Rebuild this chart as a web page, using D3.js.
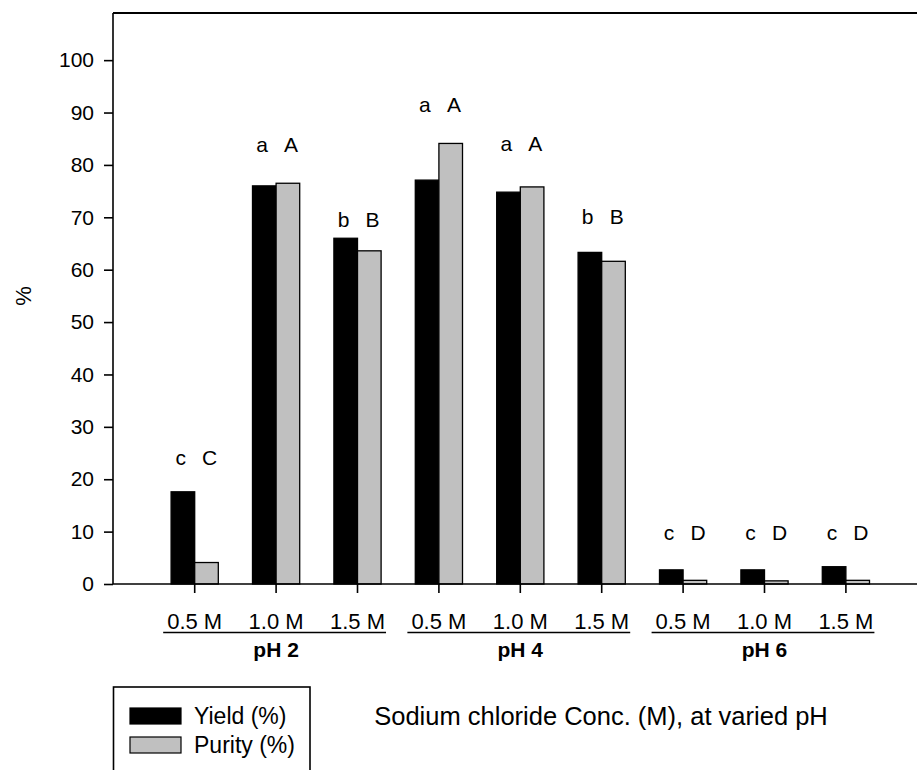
<!DOCTYPE html>
<html>
<head>
<meta charset="utf-8">
<script src="https://cdn.jsdelivr.net/npm/d3@7/dist/d3.min.js"></script>
<style>
  html, body { margin: 0; padding: 0; background: #fff; }
  svg { display: block; font-family: "Liberation Sans", Arial, sans-serif; }
</style>
</head>
<body>
<svg id="chart" width="917" height="770"></svg>
<script>
// Extraction conditions: NaCl concentration within each pH level
const groups = ["pH 2", "pH 4", "pH 6"];
const concentrations = ["0.5 M", "1.0 M", "1.5 M"];

// Measured values (%), in group order pH 2, pH 4, pH 6 × 0.5, 1.0, 1.5 M
const yieldValues  = [17.6, 76.0, 66.0, 77.1, 74.8, 63.3, 2.7, 2.7, 3.3];
const purityValues = [4.1, 76.5, 63.6, 84.1, 75.8, 61.6, 0.7, 0.6, 0.7];

// Significance letters (Yield lower case, Purity upper case) and the level (%) they sit at
const yieldLetters  = ["c", "a", "b", "a", "a", "b", "c", "c", "c"];
const purityLetters = ["C", "A", "B", "A", "A", "B", "D", "D", "D"];
const letterLevels  = [22.7, 82.5, 68.2, 90.1, 82.7, 68.7, 8.4, 8.4, 8.4];

const yTicks = [0, 10, 20, 30, 40, 50, 60, 70, 80, 90, 100];
const seriesNames = ["Yield (%)", "Purity (%)"];
const seriesColors = ["#000000", "#c0c0c0"];

const svg = d3.select("#chart");
const plotLeft = 113, plotTop = 13, plotBottom = 584, plotRight = 930;

// One slot per condition
const slots = [];
groups.forEach((g, gi) => concentrations.forEach((c, ci) => slots.push({ key: g + "|" + c, group: g, conc: c, i: gi * 3 + ci })));

const x = d3.scaleBand()
  .domain(slots.map(d => d.key))
  .range([plotLeft + 41, plotLeft + 41 + 81.4 * 9])
  .paddingInner(0.42)
  .paddingOuter(0.21);

const sub = d3.scaleBand()
  .domain(seriesNames)
  .range([0, x.bandwidth()])
  .padding(0);

const y = d3.scaleLinear().domain([0, 109]).range([plotBottom, plotTop]);

const cx = d => x(d.key) + x.bandwidth() / 2;

// Frame: top and right edges
svg.append("path")
  .attr("d", `M${plotLeft},${plotTop}H${plotRight}V${plotBottom}`)
  .attr("fill", "none").attr("stroke", "#000").attr("stroke-width", 2);

// Bars
const bars = svg.append("g");
slots.forEach(d => {
  [yieldValues[d.i], purityValues[d.i]].forEach((v, si) => {
    bars.append("rect")
      .attr("x", x(d.key) + sub(seriesNames[si]))
      .attr("y", y(v))
      .attr("width", sub.bandwidth())
      .attr("height", y(0) - y(v))
      .attr("fill", seriesColors[si])
      .attr("stroke", "#000")
      .attr("stroke-width", 1.3);
  });
});

// Y axis
const yAxis = svg.append("g")
  .attr("transform", `translate(${plotLeft},0)`)
  .call(d3.axisLeft(y).tickValues(yTicks).tickSize(9).tickPadding(10).tickSizeOuter(0));
yAxis.select(".domain").attr("stroke", "#000").attr("stroke-width", 1.6)
  .attr("d", `M0,${plotBottom}V${plotTop}`);
yAxis.selectAll(".tick line").attr("stroke", "#000").attr("stroke-width", 1.6);
yAxis.selectAll(".tick text").attr("font-size", 21).attr("fill", "#000")
  .attr("font-family", "Liberation Sans, Arial, sans-serif");

// X axis baseline with ticks at each condition
const xAxis = svg.append("g")
  .attr("transform", `translate(0,${plotBottom})`)
  .call(d3.axisBottom(x).tickSize(9).tickSizeOuter(0).tickFormat(""));
xAxis.select(".domain").attr("stroke", "#000").attr("stroke-width", 1.6)
  .attr("d", `M${plotLeft},0H${plotRight}`);
xAxis.selectAll(".tick line").attr("stroke", "#000").attr("stroke-width", 1.6);

// Concentration labels, underlined per pH group, then the pH label
const labelY = 629;
groups.forEach(g => {
  const gs = slots.filter(d => d.group === g);
  const lab = svg.append("g");
  gs.forEach(d => {
    lab.append("text")
      .attr("x", cx(d)).attr("y", labelY)
      .attr("text-anchor", "middle")
      .attr("font-size", 22)
      .text(d.conc);
  });
  const bb = lab.node().getBBox();
  svg.append("line")
    .attr("x1", bb.x - 4).attr("x2", bb.x + bb.width + 1)
    .attr("y1", labelY + 3.5).attr("y2", labelY + 3.5)
    .attr("stroke", "#000").attr("stroke-width", 1.6);
  svg.append("text")
    .attr("x", cx(gs[1])).attr("y", 657)
    .attr("text-anchor", "middle")
    .attr("font-size", 21).attr("font-weight", "bold")
    .text(g);
});

// Significance letters
const letters = svg.append("g").attr("font-size", 21);
slots.forEach(d => {
  letters.append("text")
    .attr("x", cx(d) - 14).attr("y", y(letterLevels[d.i]))
    .attr("text-anchor", "middle").text(yieldLetters[d.i]);
  letters.append("text")
    .attr("x", cx(d) + 15).attr("y", y(letterLevels[d.i]))
    .attr("text-anchor", "middle").text(purityLetters[d.i]);
});

// Y axis title
svg.append("text")
  .attr("transform", `translate(31,296) rotate(-90)`)
  .attr("text-anchor", "middle")
  .attr("font-size", 22)
  .text("%");

// X axis title
svg.append("text")
  .attr("x", 601).attr("y", 725)
  .attr("text-anchor", "middle")
  .attr("font-size", 25.5)
  .text("Sodium chloride Conc. (M), at varied pH");

// Legend
const legend = svg.append("g");
legend.append("rect")
  .attr("x", 113.5).attr("y", 687).attr("width", 196.5).attr("height", 100)
  .attr("fill", "#fff").attr("stroke", "#000").attr("stroke-width", 1.6);
seriesNames.forEach((name, i) => {
  legend.append("rect")
    .attr("x", 130).attr("y", 708 + i * 29)
    .attr("width", 51).attr("height", 16)
    .attr("fill", seriesColors[i]).attr("stroke", "#000").attr("stroke-width", 1.2);
  legend.append("text")
    .attr("x", 194).attr("y", 724 + i * 29)
    .attr("font-size", 23)
    .text(name);
});
</script>
</body>
</html>
